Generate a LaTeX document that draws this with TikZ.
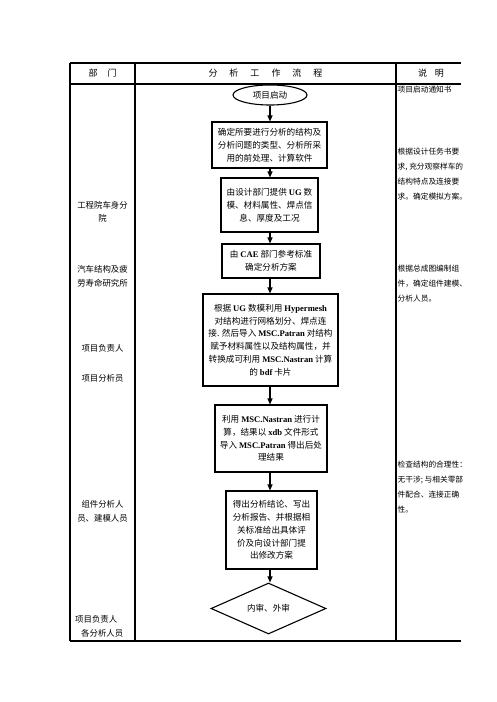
\documentclass[tikz,border=0pt]{standalone}
\usepackage{fontspec}
\setmainfont{Noto Sans CJK SC}
\newfontfamily\lat{Liberation Serif}
\usetikzlibrary{shapes.geometric,arrows.meta}
\newcommand{\lt}[1]{{\lat\bfseries #1}}
\tikzset{
  tbl/.style={line width=1.1pt},
  fbox/.style={draw, line width=1.1pt, inner sep=0pt, align=center, font=\fontsize{8.6}{12.8}\selectfont},
  arr/.style={line width=1.1pt, -{Triangle[length=6pt,width=5pt]}},
  lcol/.style={align=center, inner sep=0pt, font=\fontsize{8.4}{13.5}\selectfont},
  rcol/.style={align=left, anchor=north west, inner sep=0pt, font=\fontsize{7.7}{14.8}\selectfont},
  hdr/.style={inner sep=0pt, font=\fontsize{9}{11}\selectfont},
}
\begin{document}
\begin{tikzpicture}[x=1pt,y=-1pt]
\useasboundingbox (0,0) rectangle (496,702);
% table
\draw[tbl] (70,63) -- (461,63);
\draw[tbl] (70,84) -- (461,84);
\draw[tbl] (70,641) -- (461,641);
\draw[tbl] (70,63) -- (70,641);
\draw[tbl] (135,63) -- (135,641);
\draw[tbl] (396,63) -- (396,641);
% headers
\node[hdr] (h1) at (102.5,73) {部\hspace{10pt}门};
\node[hdr] (h2) at (265.5,73) {分\hspace{12pt}析\hspace{12pt}工\hspace{12pt}作\hspace{12pt}流\hspace{12pt}程};
\node[hdr] (h3) at (431,73) {说\hspace{8pt}明};
% left column
\node[lcol] (l1) at (102.5,212) {工程院车身分\\院};
\node[lcol] (l2) at (102.5,276.5) {汽车结构及疲\\劳寿命研究所};
\node[lcol] (l3) at (102.5,348) {项目负责人};
\node[lcol] (l4) at (102.5,378) {项目分析员};
\node[lcol] (l5) at (102.5,511.5) {组件分析人\\员、建模人员};
\node[lcol, align=left, anchor=west] (l6) at (75,626.5) {项目负责人\\\hspace*{6pt}各分析人员};
% right column
\node[rcol] (r1) at (397.5,85.5) {项目启动通知书};
\node[rcol] (r2) at (397.5,148) {根据设计任务书要\\求, 充分观察样车的\\结构特点及连接要\\求。确定模拟方案。};
\node[rcol] (r3) at (397.5,265) {根据总成图编制组\\件，确定组件建模、\\分析人员。};
\node[rcol] (r4) at (397.5,461) {检查结构的合理性：\\无干涉; 与相关零部\\件配合、连接正确\\性。};
% flow
\node[draw, ellipse, line width=1.1pt, inner sep=0pt, minimum width=74pt, minimum height=20pt, font=\fontsize{8.6}{10}\selectfont] (s) at (270,95) {项目启动};
\node[fbox, minimum width=115pt, minimum height=46pt] (b1) at (269.5,145) {确定所要进行分析的结构及\\分析问题的类型、分析所采\\用的前处理、计算软件};
\node[fbox, minimum width=97pt, minimum height=54pt] (b2) at (269.5,205) {由设计部门提供 \lt{UG} 数\\模、材料属性、焊点信\\息、厚度及工况};
\node[fbox, minimum width=98pt, minimum height=34pt] (b3) at (271,261) {由 \lt{CAE} 部门参考标准\\确定分析方案};
\node[fbox, minimum width=135pt, minimum height=92pt] (b4) at (270.5,340) {根据 \lt{UG} 数模利用 \lt{Hypermesh}\\对结构进行网格划分、焊点连\\接. 然后导入 \lt{MSC.Patran} 对结构\\赋予材料属性以及结构属性，并\\转换成可利用 \lt{MSC.Nastran} 计算\\的 \lt{bdf} 卡片};
\node[fbox, minimum width=112pt, minimum height=67pt] (b5) at (271,438.5) {利用 \lt{MSC.Nastran} 进行计\\算，结果以 \lt{xdb} 文件形式\\导入 \lt{MSC.Patran} 得出后处\\理结果};
\node[fbox, minimum width=91pt, minimum height=78pt] (b6) at (271.5,530) {得出分析结论、写出\\分析报告、并根据相\\关标准给出具体评\\价及向设计部门提\\出修改方案};
\node[draw, diamond, line width=1.1pt, inner sep=0pt, minimum width=115pt, minimum height=35pt, font=\fontsize{8.6}{10}\selectfont] (d) at (268.5,608.5) {内审、外审};
% arrows
\draw[arr] (s.south) -- (s.south |- b1.north);
\draw[arr] (s.south |- b1.south) -- (s.south |- b2.north);
\draw[arr] (s.south |- b2.south) -- (s.south |- b3.north);
\draw[arr] (s.south |- b3.south) -- (s.south |- b4.north);
\draw[arr] (s.south |- b4.south) -- (s.south |- b5.north);
\draw[arr] (s.south |- b5.south) -- (s.south |- b6.north);
\draw[arr] (s.south |- b6.south) -- (s.south |- d.north);
\end{tikzpicture}
\end{document}
